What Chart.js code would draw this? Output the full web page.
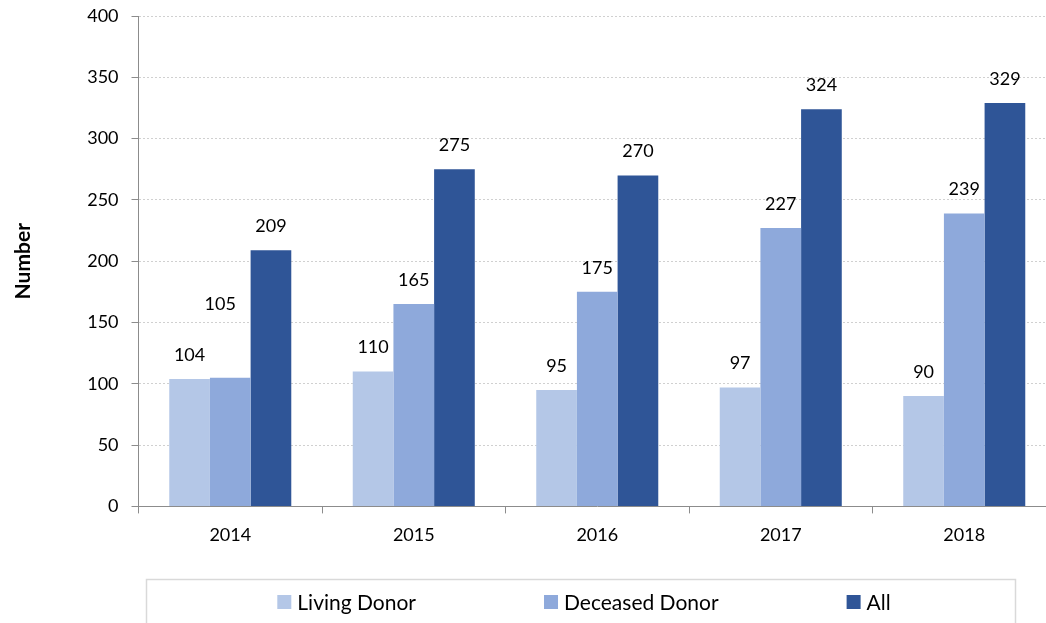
<!DOCTYPE html>
<html>
<head>
<meta charset="utf-8">
<script src="https://cdn.jsdelivr.net/npm/chart.js@4/dist/chart.umd.min.js"></script>
<style>
  html, body { margin: 0; padding: 0; background: #fff; overflow: hidden; }
  #wrap { width: 1046px; height: 623px; overflow: hidden; }
</style>
</head>
<body>
<div id="wrap">
  <canvas id="myChart" width="1070" height="623"></canvas>
</div>
<script>
const years = ["2014", "2015", "2016", "2017", "2018"];
const livingDonor = [104, 110, 95, 97, 90];
const deceasedDonor = [105, 165, 175, 227, 239];
const allDonors = [209, 275, 270, 324, 329];
const seriesNames = ["Living Donor", "Deceased Donor", "All"];
const yTicks = [0, 50, 100, 150, 200, 250, 300, 350, 400];

const colors = ["#B4C7E7", "#8EA9DB", "#2F5597"];
const fontFamily = "Lato, 'Open Sans', sans-serif";

// label for 2014 deceased sits higher and a bit left in the original
const labelNudge = { "1-0": { dx: -10, dy: -49 } };

const valueLabels = {
  id: "valueLabels",
  afterDatasetsDraw(chart) {
    const ctx = chart.ctx;
    ctx.save();
    ctx.font = "18px " + fontFamily;
    ctx.fillStyle = "#000";
    ctx.textAlign = "center";
    ctx.textBaseline = "middle";
    chart.data.datasets.forEach((ds, di) => {
      const meta = chart.getDatasetMeta(di);
      meta.data.forEach((bar, i) => {
        const n = labelNudge[di + "-" + i] || { dx: 0, dy: 0 };
        ctx.fillText(String(ds.data[i]), bar.x + n.dx, bar.y - 24 + n.dy);
      });
    });
    ctx.restore();
  },
};

const boxedLegend = {
  id: "boxedLegend",
  afterDraw(chart) {
    const ctx = chart.ctx;
    ctx.save();
    ctx.strokeStyle = "#D9D9D9";
    ctx.lineWidth = 1.5;
    ctx.strokeRect(146.5, 579.5, 869, 80);

    ctx.font = "21px " + fontFamily;
    ctx.textBaseline = "middle";
    ctx.textAlign = "left";
    const box = 14, gapText = 6, gapItem = 128;
    const widths = chart.data.datasets.map(
      (ds) => box + gapText + ctx.measureText(ds.label).width
    );
    const total = widths.reduce((a, b) => a + b, 0) + gapItem * (widths.length - 1);
    let x = 584 - total / 2;
    const y = 602;
    chart.data.datasets.forEach((ds, i) => {
      ctx.fillStyle = ds.backgroundColor;
      ctx.fillRect(x, y - box / 2, box, box);
      ctx.fillStyle = "#000";
      ctx.fillText(ds.label, x + box + gapText, y + 1);
      x += widths[i] + gapItem;
    });
    ctx.restore();
  },
};

const ctx = document.getElementById("myChart").getContext("2d");
new Chart(ctx, {
  type: "bar",
  data: {
    labels: years,
    datasets: [
      { label: seriesNames[0], data: livingDonor, backgroundColor: colors[0] },
      { label: seriesNames[1], data: deceasedDonor, backgroundColor: colors[1] },
      { label: seriesNames[2], data: allDonors, backgroundColor: colors[2] },
    ],
  },
  options: {
    responsive: false,
    animation: false,
    devicePixelRatio: 1,
    layout: { padding: { left: 11, right: 14, top: 16, bottom: 66 } },
    datasets: {
      bar: { categoryPercentage: 0.665, barPercentage: 1.0, borderWidth: 0 },
    },
    plugins: {
      legend: { display: false },
      tooltip: { enabled: false },
    },
    scales: {
      x: {
        afterFit(scale) {
          scale.paddingLeft = 0;
          scale.paddingRight = 0;
        },
        grid: {
          drawOnChartArea: false,
          drawTicks: true,
          tickLength: 7,
          tickColor: "#8C8C8C",
          offset: true,
        },
        border: { color: "#8C8C8C", width: 1 },
        ticks: {
          color: "#000",
          padding: 11,
          font: { family: fontFamily, size: 18 },
          maxRotation: 0,
        },
      },
      y: {
        min: 0,
        max: 400,
        afterBuildTicks(scale) {
          scale.ticks = yTicks.map((v) => ({ value: v }));
        },
        afterFit(scale) {
          scale.paddingTop = 0;
          scale.paddingBottom = 0;
        },
        grid: {
          color: "#D0D0D0",
          lineWidth: 1,
          tickLength: 7,
          tickColor: "#8C8C8C",
          tickBorderDash: [],
        },
        border: { color: "#8C8C8C", width: 1, dash: [2, 2] },
        ticks: {
          color: "#000",
          padding: 13,
          font: { family: fontFamily, size: 18 },
        },
        title: {
          display: true,
          text: "Number",
          color: "#000",
          font: { family: fontFamily, size: 21, weight: "bold" },
          padding: { top: 0, bottom: 38 },
        },
      },
    },
  },
  plugins: [valueLabels, boxedLegend],
});
</script>
</body>
</html>
